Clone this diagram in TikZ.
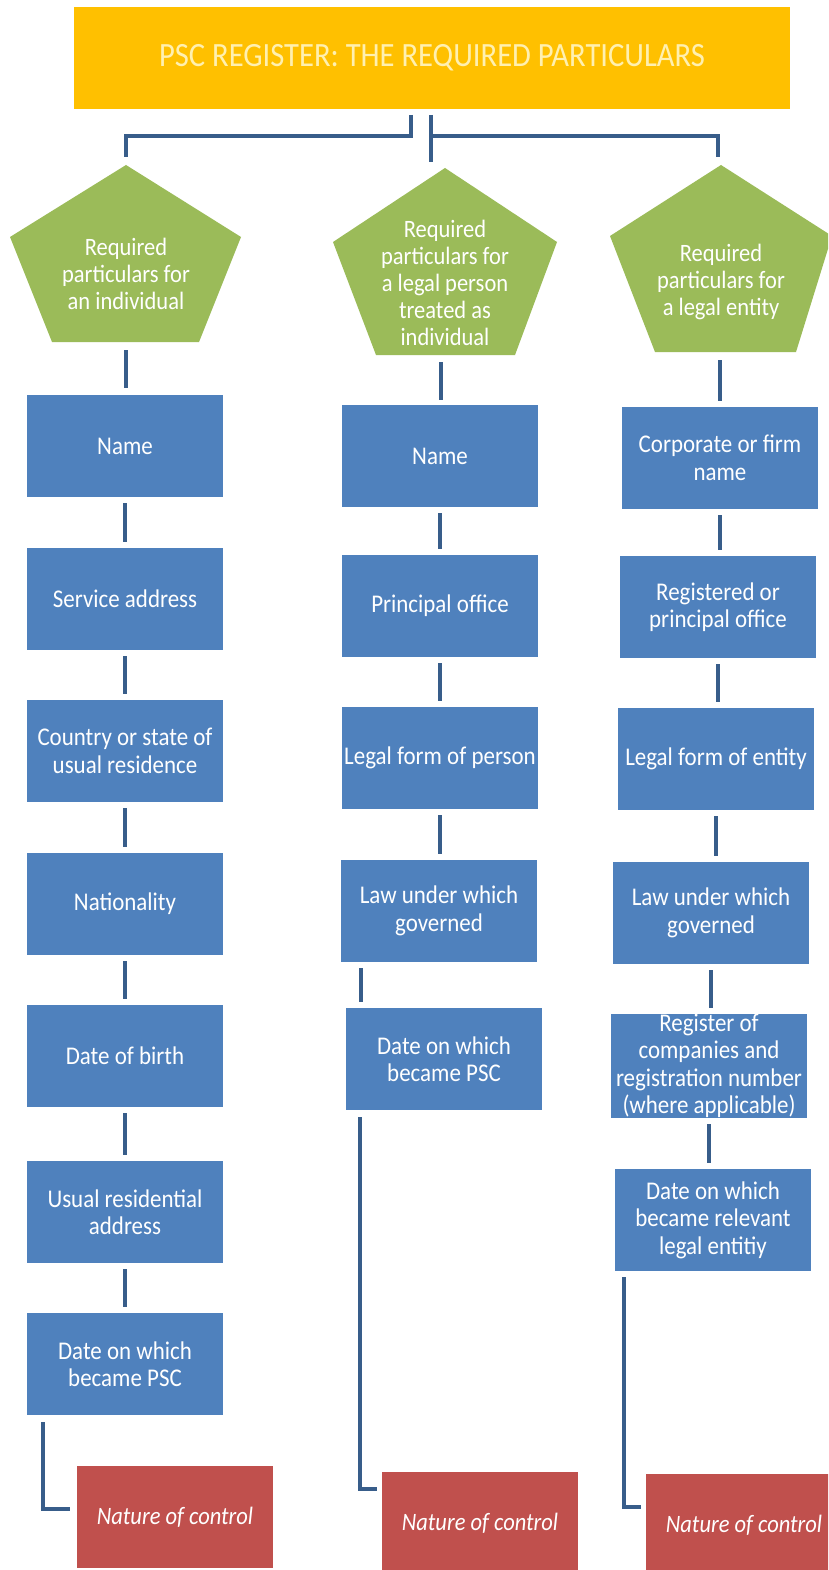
\documentclass[tikz,border=0pt]{standalone}
\usepackage{fontspec}
\setmainfont{Carlito}[FakeStretch=0.9]
\definecolor{titleor}{HTML}{FFC000}
\definecolor{titletx}{HTML}{FFF0B0}
\definecolor{pgreen}{HTML}{9BBB59}
\definecolor{bblue}{HTML}{4F81BD}
\definecolor{rred}{HTML}{C0504D}
\definecolor{lineblue}{HTML}{385D8A}
\begin{document}
\begin{tikzpicture}[x=1pt,y=-1pt,
  bbox/.style={fill=bblue,draw=none,minimum width=196pt,minimum height=102pt,inner sep=0pt,align=center,text=white,font=\fontsize{25.5}{27.5}\selectfont},
  rbox/.style={fill=rred,draw=none,minimum width=196pt,minimum height=102pt,inner sep=0pt,align=center,text=white,font=\fontsize{25}{28}\selectfont\itshape},
  ptext/.style={align=center,text=white,inner sep=0pt,font=\fontsize{25}{27}\selectfont},
  pent/.style={fill=pgreen,draw=none},
  conn/.style={draw=lineblue,line width=4.5pt}]
\useasboundingbox (0,0) rectangle (828,1570);
\clip (0,0) rectangle (828,1570);
\fill[white] (0,0) rectangle (828,1570);

% title
\node[fill=titleor,minimum width=716pt,minimum height=102pt,inner sep=0pt,text=titletx,font=\fontsize{34}{36}\selectfont] (title) at (432,58) {PSC REGISTER: THE REQUIRED PARTICULARS};

% pentagons
\fill[pent] (126,165) -- (241,237) -- (199,342) -- (52,342) -- (10,237) -- cycle;
\fill[pent] (445,168) -- (557,242) -- (515,355) -- (376,355) -- (333,242) -- cycle;
\fill[pent] (721,165) -- (832,236) -- (796,352) -- (655,352) -- (610,236) -- cycle;
\node[ptext] (p1) at (126,274) {Required\\particulars for\\an individual};
\node[ptext] (p2) at (445,283) {Required\\particulars for\\a legal person\\treated as\\individual};
\node[ptext] (p3) at (721,282) {Required\\particulars for\\a legal entity};
\coordinate (p1t) at (126,157);
\coordinate (p2t) at (431,162);
\coordinate (p3t) at (718,157);
\coordinate (p1b) at (126,342);
\coordinate (p2b) at (441,355);
\coordinate (p3b) at (720,352);

% top connectors
\coordinate (tl) at (411,115);
\coordinate (tr) at (431,115);
\draw[conn] (tl) |- (p1t |- 0,136) -- (p1t);
\draw[conn] (tr) -- (p2t);
\draw[conn] (tr |- 0,136) -| (p3t);

% left column
\node[bbox] (l1) at (125,446) {Name};
\node[bbox] (l2) at (125,599) {Service address};
\node[bbox] (l3) at (125,751) {Country or state of\\usual residence};
\node[bbox] (l4) at (125,904) {Nationality};
\node[bbox] (l5) at (125,1056) {Date of birth};
\node[bbox] (l6) at (125,1212) {Usual residential\\address};
\node[bbox] (l7) at (125,1364) {Date on which\\became PSC};

% middle column
\node[bbox] (m1) at (440,456) {Name};
\node[bbox] (m2) at (440,606) {Principal office};
\node[bbox] (m3) at (440,758) {Legal form of person};
\node[bbox] (m4) at (439,911) {Law under which\\governed};
\node[bbox] (m5) at (444,1059) {Date on which\\became PSC};

% right column
\node[bbox] (r1) at (720,458) {Corporate or firm\\name};
\node[bbox] (r2) at (718,607) {Registered or\\principal office};
\node[bbox] (r3) at (716,759) {Legal form of entity};
\node[bbox] (r4) at (711,913) {Law under which\\governed};
\node[bbox] (r5) at (709,1066) {Register of\\companies and\\registration number\\(where applicable)};
\node[bbox] (r6) at (713,1220) {Date on which\\became relevant\\legal entitiy};

% red boxes
\node[rbox] (n1) at (175,1517) {Nature of control};
\node[rbox] (n2) at (480,1523) {Nature of control};
\node[rbox] (n3) at (744,1525) {Nature of control};

% pentagon to first box
\draw[conn] ([yshift=-8pt]p1b) -- ([yshift=7pt]p1b |- l1.north);
\draw[conn] ([yshift=-7pt]p2b) -- ([yshift=5pt]p2b |- m1.north);
\draw[conn] ([yshift=-8pt]p3b) -- ([yshift=6pt]p3b |- r1.north);

% vertical chains
\foreach \a/\b in {l1/l2,l2/l3,l3/l4,l4/l5,l5/l6,l6/l7,m1/m2,m2/m3,m3/m4,r1/r2,r2/r3,r3/r4,r4/r5,r5/r6}
  \draw[conn] ([yshift=-6pt]\a.south) -- ([yshift=6pt]\a.south |- \b.north);
\draw[conn] ([xshift=20pt,yshift=-6pt]m4.south west) -- ([xshift=20pt,yshift=6pt]m4.south west |- m5.north);

% to nature of control
\draw[conn] ([xshift=16pt,yshift=-7pt]l7.south west) |- ([xshift=-7pt,yshift=8pt]n1.west);
\draw[conn] ([xshift=14pt,yshift=-7pt]m5.south west) |- ([xshift=-5pt,yshift=34pt]n2.west);
\draw[conn] ([xshift=9pt,yshift=-6pt]r6.south west) |- ([xshift=-5pt,yshift=18pt]n3.west);
\end{tikzpicture}
\end{document}
